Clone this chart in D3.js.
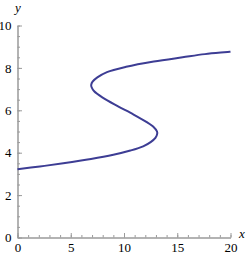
<!DOCTYPE html>
<html>
<head>
<meta charset="utf-8">
<script src="https://cdn.jsdelivr.net/npm/d3@7"></script>
<style>
  body { margin: 0; background: #fff; }
  .axis path, .axis line { stroke: #9a9a9a; }
  .axis text { font-family: "Liberation Serif", "Times New Roman", serif; font-size: 13px; fill: #000; }
</style>
</head>
<body>
<div id="chart"></div>
<script>
// curve points (y rises along the curve)
const curveY = [3.22, 3.35, 3.5, 3.7, 3.9, 4.1, 4.3, 4.5, 4.7, 4.9, 5.0, 5.2, 5.45, 5.8, 6.2, 6.6, 6.9, 7.1, 7.2, 7.35, 7.55, 7.8, 8.05, 8.3, 8.5, 8.65, 8.76]
const curveX = [0, 2.1, 4.3, 6.9, 9.0, 10.6, 11.8, 12.5, 12.95, 13.12, 13.1, 12.8, 12.1, 10.9, 9.4, 8.0, 7.2, 6.95, 6.92, 7.05, 7.5, 8.4, 10.2, 12.8, 15.5, 17.6, 20]

const xMajor = [0, 5, 10, 15, 20]
const yMajor = [0, 2, 4, 6, 8, 10]

const width = 249
const height = 255
const dimensions = {
  x0: 17.5, x1: 230.5,
  y0: 237.5, y1: 25.5,
}

const svg = d3.select("#chart")
  .append("svg")
    .attr("width", width)
    .attr("height", height)

const x = d3.scaleLinear()
  .domain([0, 20])
  .range([dimensions.x0, dimensions.x1])
const y = d3.scaleLinear()
  .domain([0, 10])
  .range([dimensions.y0, dimensions.y1])

// minor ticks
svg.append("g")
  .attr("class", "axis")
  .attr("transform", "translate(0," + dimensions.y0 + ")")
  .call(d3.axisBottom(x).tickValues(d3.range(0, 21, 1)).tickSize(-2.5).tickFormat(""))
  .call(g => g.select(".domain").remove())
svg.append("g")
  .attr("class", "axis")
  .attr("transform", "translate(" + dimensions.x0 + ",0)")
  .call(d3.axisLeft(y).tickValues(d3.range(0, 10.01, 0.5)).tickSize(-2.5).tickFormat(""))
  .call(g => g.select(".domain").remove())

// major ticks + labels
svg.append("g")
  .attr("class", "axis")
  .attr("transform", "translate(0," + dimensions.y0 + ")")
  .call(d3.axisBottom(x).tickValues(xMajor).tickSize(-4.5).tickSizeOuter(0).tickPadding(5))
  .call(g => g.select(".domain").attr("stroke-width", 1.5))
svg.append("g")
  .attr("class", "axis")
  .attr("transform", "translate(" + dimensions.x0 + ",0)")
  .call(d3.axisLeft(y).tickValues(yMajor).tickSize(-4.5).tickSizeOuter(0).tickPadding(6))
  .call(g => g.select(".domain").attr("stroke-width", 1.5))

// axis names
svg.append("text")
  .attr("x", 18).attr("y", 12)
  .attr("text-anchor", "middle")
  .style("font-family", "Liberation Serif, serif")
  .style("font-style", "italic")
  .style("font-size", "13px")
  .text("y")
svg.append("text")
  .attr("x", 242).attr("y", 238)
  .attr("text-anchor", "middle")
  .style("font-family", "Liberation Serif, serif")
  .style("font-style", "italic")
  .style("font-size", "13px")
  .text("x")

// the curve
const points = curveY.map((v, i) => [curveX[i], v])
const line = d3.line()
  .x(d => x(d[0]))
  .y(d => y(d[1]))
  .curve(d3.curveCatmullRom.alpha(0.5))

svg.append("path")
  .datum(points)
  .attr("fill", "none")
  .attr("stroke", "#3d3d94")
  .attr("stroke-width", 2)
  .attr("d", line)
</script>
</body>
</html>
